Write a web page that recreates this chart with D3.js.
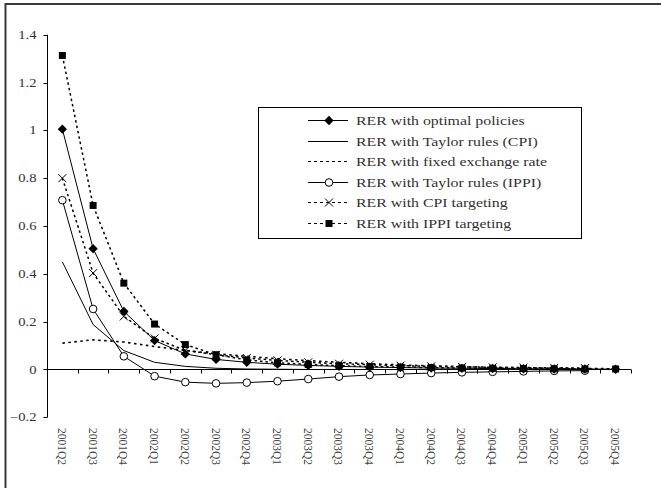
<!DOCTYPE html>
<html>
<head>
<meta charset="utf-8">
<script src="https://cdn.jsdelivr.net/npm/d3@7"></script>
<style>
  body { margin: 0; background: #fff; }
  svg { display: block; }
  text { font-family: "Liberation Serif", "Times New Roman", serif; fill: #333; }
</style>
</head>
<body>
<svg id="chart" width="661" height="488"></svg>
<script>
// Quarterly horizon of the impulse responses
const quarters = ["2001Q2","2001Q3","2001Q4","2002Q1","2002Q2","2002Q3","2002Q4",
  "2003Q1","2003Q2","2003Q3","2003Q4","2004Q1","2004Q2","2004Q3","2004Q4",
  "2005Q1","2005Q2","2005Q3","2005Q4"];

const yTicks = [-0.2, 0, 0.2, 0.4, 0.6, 0.8, 1, 1.2, 1.4];

// Real exchange rate response under each policy regime
const optimalPolicies = [1.005, 0.505, 0.243, 0.121, 0.065, 0.042, 0.030, 0.022, 0.017,
  0.013, 0.010, 0.008, 0.006, 0.005, 0.004, 0.003, 0.002, 0.002, 0.001];
const taylorCPI = [0.45, 0.188, 0.079, 0.030, 0.013, 0.005, 0.002, 0.001, 0.000,
  0.000, 0.000, 0.000, 0.000, 0.000, 0.000, 0.000, 0.000, 0.000, 0.000];
const fixedRate = [0.110, 0.124, 0.115, 0.096, 0.079, 0.066, 0.055, 0.045, 0.037,
  0.030, 0.024, 0.019, 0.015, 0.012, 0.009, 0.007, 0.005, 0.004, 0.003];
const taylorIPPI = [0.708, 0.253, 0.055, -0.028, -0.053, -0.058, -0.055, -0.049, -0.040,
  -0.030, -0.023, -0.019, -0.015, -0.012, -0.010, -0.008, -0.006, -0.005, null];
const cpiTargeting = [0.80, 0.403, 0.222, 0.130, 0.080, 0.062, 0.048, 0.038, 0.030,
  0.024, 0.020, 0.016, 0.013, 0.011, 0.009, 0.008, 0.007, 0.006, null];
const ippiTargeting = [1.313, 0.686, 0.361, 0.190, 0.104, 0.062, 0.040, 0.028, 0.021,
  0.016, 0.012, 0.010, 0.008, 0.006, 0.005, 0.004, 0.003, 0.002, 0.002];

const seriesNames = ["RER with optimal policies", "RER with Taylor rules (CPI)",
  "RER with fixed exchange rate", "RER with Taylor rules (IPPI)",
  "RER with CPI targeting", "RER with IPPI targeting"];

const series = [
  { name: seriesNames[0], values: optimalPolicies, dash: null, width: 1, marker: "diamond" },
  { name: seriesNames[1], values: taylorCPI, dash: null, width: 1, marker: null },
  { name: seriesNames[2], values: fixedRate, dash: "2.5,3.5", width: 1.6, marker: null },
  { name: seriesNames[3], values: taylorIPPI, dash: null, width: 1, marker: "circle" },
  { name: seriesNames[4], values: cpiTargeting, dash: "2.5,3", width: 1.5, marker: "cross" },
  { name: seriesNames[5], values: ippiTargeting, dash: "2.5,3", width: 1.5, marker: "square" }
];

const svg = d3.select("#chart");
const textStretch = 1.27;

// Outer chart frame
svg.append("rect")
  .attr("x", 5.5).attr("y", 4)
  .attr("width", 700).attr("height", 500)
  .attr("fill", "none").attr("stroke", "#3a3a3a").attr("stroke-width", 2);

const x = d3.scaleBand().domain(quarters).range([47, 631]).padding(0);
const y = d3.scaleLinear().domain([-0.2, 1.4]).range([417.3, 34.7]);
const cx = q => x(q) + x.bandwidth() / 2;

// Vertical axis
const yAxis = svg.append("g").attr("transform", "translate(47.5,0)");
yAxis.append("line").attr("x1", 0).attr("x2", 0)
  .attr("y1", y(1.4)).attr("y2", y(-0.2)).attr("stroke", "#000");
yAxis.selectAll("line.tick").data(yTicks).join("line").attr("class", "tick")
  .attr("x1", -4).attr("x2", 0)
  .attr("y1", d => Math.round(y(d)) + 0.5).attr("y2", d => Math.round(y(d)) + 0.5)
  .attr("stroke", "#000");
svg.append("g").selectAll("text").data(yTicks).join("text")
  .attr("transform", d => `translate(36.5,${y(d)}) scale(${textStretch},1)`)
  .attr("text-anchor", "end").attr("dy", "0.35em")
  .style("font-size", "11.5px")
  .text(d => d3.format("")(d));

// Horizontal axis at zero with ticks between categories
const y0 = Math.round(y(0)) + 0.5;
const xAxis = svg.append("g");
xAxis.append("line").attr("x1", 47).attr("x2", 631)
  .attr("y1", y0).attr("y2", y0).attr("stroke", "#000");
xAxis.selectAll("line.tick").data(quarters.concat(["end"])).join("line").attr("class", "tick")
  .attr("x1", (d, i) => Math.round(47 + i * x.bandwidth()) + 0.5)
  .attr("x2", (d, i) => Math.round(47 + i * x.bandwidth()) + 0.5)
  .attr("y1", y0).attr("y2", y0 + 4).attr("stroke", "#000");
svg.append("g").selectAll("text").data(quarters).join("text")
  .attr("transform", d => `translate(${cx(d)},428) scale(1.12,1) rotate(90)`)
  .attr("dy", "0.35em")
  .style("font-size", "11.5px")
  .style("fill", "#444")
  .text(d => d);

// Series lines
const line = d3.line()
  .defined(d => d.v !== null)
  .x(d => cx(d.q)).y(d => y(d.v));

const plot = svg.append("g");
series.forEach(s => {
  plot.append("path")
    .datum(s.values.map((v, i) => ({ q: quarters[i], v })))
    .attr("d", line)
    .attr("fill", "none").attr("stroke", "#000")
    .attr("stroke-width", s.width)
    .attr("stroke-dasharray", s.dash);
});

function drawMarker(g, type, px, py) {
  if (type === "diamond") {
    g.append("path").attr("d", d3.symbol(d3.symbolDiamond2, 55)())
      .attr("transform", `translate(${px},${py})`).attr("fill", "#000");
  } else if (type === "square") {
    g.append("rect").attr("x", px - 3.5).attr("y", py - 3.5)
      .attr("width", 7).attr("height", 7).attr("fill", "#000");
  } else if (type === "circle") {
    g.append("circle").attr("cx", px).attr("cy", py).attr("r", 3.8)
      .attr("fill", "#fff").attr("stroke", "#000").attr("stroke-width", 1);
  } else if (type === "cross") {
    g.append("path").attr("d", `M${px-4},${py-4}L${px+4},${py+4}M${px+4},${py-4}L${px-4},${py+4}`)
      .attr("stroke", "#000").attr("stroke-width", 1).attr("fill", "none");
  }
}

// Markers, drawn in series order
const markOrder = [3, 4, 0, 5];
markOrder.forEach(k => {
  const s = series[k];
  const g = plot.append("g");
  s.values.forEach((v, i) => {
    if (v !== null) drawMarker(g, s.marker, cx(quarters[i]), y(v));
  });
});

// Legend
const legend = svg.append("g");
legend.append("rect").attr("x", 258.5).attr("y", 107.5)
  .attr("width", 323).attr("height", 131)
  .attr("fill", "#fff").attr("stroke", "#000").attr("stroke-width", 1);
const rowY = i => 120 + i * 20.6;
series.forEach((s, i) => {
  const ly = Math.round(rowY(i)) + 0.5;
  legend.append("line").attr("x1", 308).attr("x2", 348)
    .attr("y1", ly).attr("y2", ly)
    .attr("stroke", "#000").attr("stroke-width", s.dash ? 1.2 : 1)
    .attr("stroke-dasharray", s.dash ? "3,3" : null);
  if (s.marker) drawMarker(legend, s.marker, 329, ly);
  legend.append("text")
    .attr("transform", `translate(356,${ly}) scale(${textStretch},1)`)
    .attr("dy", "0.35em")
    .style("font-size", "12.5px")
    .text(s.name);
});
</script>
</body>
</html>
